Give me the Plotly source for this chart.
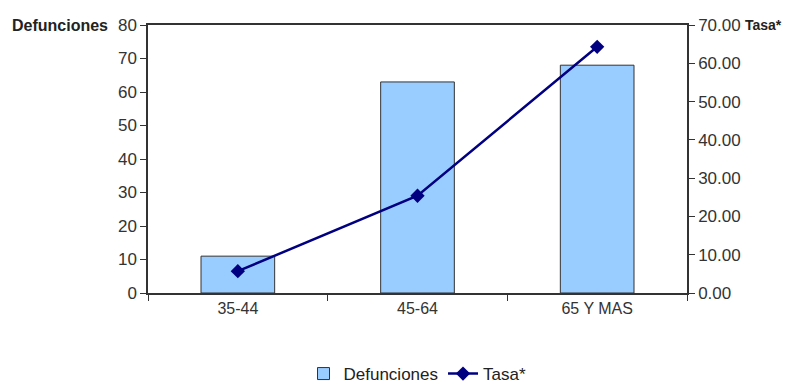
import plotly.graph_objects as go

categories = ["35-44", "45-64", "65 Y MAS"]
defunciones = [11, 63, 68]
tasa = [5.7, 25.4, 64.3]

font_family = "Liberation Sans, Arial, sans-serif"
axis_color = "#333333"

fig = go.Figure()
fig.add_trace(go.Bar(
    x=categories, y=defunciones, name="Defunciones",
    marker=dict(color="#99CCFF", line=dict(color="#333333", width=1)),
    width=0.41, yaxis="y",
))
fig.add_trace(go.Scatter(
    x=categories, y=tasa, name="Tasa*", mode="lines+markers",
    line=dict(color="#000080", width=2.5),
    marker=dict(symbol="diamond", size=11, color="#000080"),
    yaxis="y2",
))

# page body has an 8px margin, so the figure is offset by 8px in the window
W, H = 787, 377
fig.update_layout(
    width=W, height=H,
    margin=dict(l=140, r=108, t=17, b=92),
    paper_bgcolor="white", plot_bgcolor="white",
    font=dict(family=font_family, size=15, color="#333333"),
    showlegend=True,
    legend=dict(orientation="h", x=0.5, xanchor="center", xref="paper",
                yref="container", y=11 / H, yanchor="middle",
                font=dict(size=17, color="#222222"), traceorder="normal"),
    xaxis=dict(
        showline=True, linecolor=axis_color, linewidth=1.5, mirror=True,
        ticks="outside", tickson="boundaries", ticklen=6, tickcolor=axis_color,
        showgrid=False, tickfont=dict(size=16), automargin=False,
    ),
    yaxis=dict(
        range=[0, 80], dtick=10, showline=True, linecolor=axis_color, linewidth=1.5,
        ticks="outside", ticklen=6, tickcolor=axis_color, showgrid=False, zeroline=False,
        tickfont=dict(size=17), automargin=False,
    ),
    yaxis2=dict(
        range=[0, 70], dtick=10, overlaying="y", side="right", tickformat=".2f",
        showline=True, linecolor=axis_color, linewidth=1.5,
        ticks="outside", ticklen=6, tickcolor=axis_color, showgrid=False, zeroline=False,
        tickfont=dict(size=17), automargin=False,
    ),
    bargap=0.59,
)

fig.add_annotation(text="<b>Defunciones</b>", xref="paper", yref="paper",
                   x=-138 / 539, y=1.0, xanchor="left", yanchor="middle", showarrow=False,
                   font=dict(size=16, color="#222222"))
fig.add_annotation(text="<b>Tasa*</b>", xref="paper", yref="paper",
                   x=1.0 + 97 / 539, y=1.0, xanchor="right", yanchor="middle", showarrow=False,
                   font=dict(size=14, color="#222222"))

fig.write_html("out.html")
